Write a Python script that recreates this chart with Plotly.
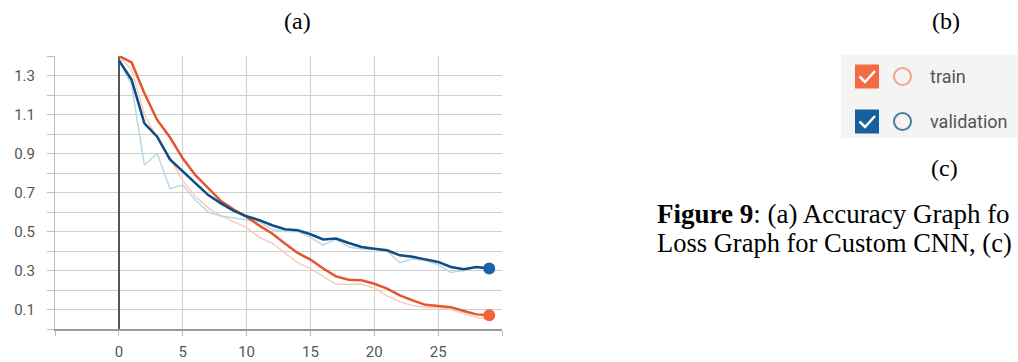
import plotly.graph_objects as go

# ---- data ----
steps = list(range(30))
train_smoothed = [1.40, 1.367, 1.209, 1.072, 0.983, 0.875, 0.789, 0.72, 0.656, 0.613,
                  0.575, 0.53, 0.49, 0.438, 0.39, 0.356, 0.31, 0.27, 0.253, 0.25,
                  0.232, 0.207, 0.172, 0.147, 0.124, 0.118, 0.112, 0.092, 0.075, 0.07]
val_smoothed = [1.378, 1.278, 1.055, 0.986, 0.87, 0.81, 0.75, 0.687, 0.644, 0.606,
                0.578, 0.558, 0.532, 0.512, 0.507, 0.486, 0.459, 0.464, 0.441, 0.421,
                0.412, 0.404, 0.378, 0.37, 0.357, 0.344, 0.318, 0.306, 0.318, 0.31]
train_raw = [1.40, 1.33, 1.10, 0.98, 0.88, 0.76, 0.68, 0.62, 0.58, 0.55,
             0.52, 0.47, 0.44, 0.39, 0.34, 0.31, 0.27, 0.23, 0.23, 0.23,
             0.21, 0.17, 0.14, 0.12, 0.11, 0.11, 0.10, 0.08, 0.06, 0.05]
val_raw = [1.38, 1.25, 0.84, 0.90, 0.72, 0.738, 0.66, 0.60, 0.58, 0.57,
           0.56, 0.55, 0.51, 0.50, 0.50, 0.47, 0.43, 0.46, 0.42, 0.41,
           0.41, 0.40, 0.34, 0.36, 0.35, 0.33, 0.29, 0.30, 0.32, 0.31]
x_tickvals = [-5, 0, 5, 10, 15, 20, 25, 30]
x_ticktext = ["", "0", "5", "10", "15", "20", "25", ""]
y_tickvals = [round(i * 0.1, 1) for i in range(15)]
y_ticktext = [("%.1f" % v) if (round(v * 10) % 2 == 1) else "" for v in y_tickvals]
legend_names = ["train", "validation"]

# ---- layout geometry ----
W, H = 1018, 362
L, R, T, B = 55, 516, 56, 33
PW, PH = W - L - R, H - T - B


def px(x):
    return (x - L) / PW


def py(y):
    return (H - B - y) / PH


ORANGE = "#e4572e"
BLUE = "#0f4c81"
ORANGE_RAW = "#f9cdb9"
BLUE_RAW = "#bcd6e8"

fig = go.Figure()
fig.add_trace(go.Scatter(x=steps, y=train_raw, mode="lines",
                         line=dict(color=ORANGE_RAW, width=1.5), hoverinfo="skip"))
fig.add_trace(go.Scatter(x=steps, y=val_raw, mode="lines",
                         line=dict(color=BLUE_RAW, width=1.5), hoverinfo="skip"))
fig.add_trace(go.Scatter(x=steps, y=train_smoothed, mode="lines", name=legend_names[0],
                         line=dict(color=ORANGE, width=2.5)))
fig.add_trace(go.Scatter(x=steps, y=val_smoothed, mode="lines", name=legend_names[1],
                         line=dict(color=BLUE, width=2.5)))
fig.add_trace(go.Scatter(x=[steps[-1]], y=[train_smoothed[-1]], mode="markers",
                         marker=dict(color="#f0643a", size=12), hoverinfo="skip"))
fig.add_trace(go.Scatter(x=[steps[-1]], y=[val_smoothed[-1]], mode="markers",
                         marker=dict(color="#1c62ad", size=12), hoverinfo="skip"))

fig.update_xaxes(range=[-5, 30], tickvals=x_tickvals, ticktext=x_ticktext,
                 automargin=False,
                 showgrid=True, gridcolor="#cfcfcf", gridwidth=1,
                 showline=True, linecolor="#9a9a9a", linewidth=1.5,
                 ticks="outside", ticklen=5, tickcolor="#bdbdbd",
                 zeroline=True, zerolinecolor="#555555", zerolinewidth=1.8,
                 tickfont=dict(family="Roboto", size=15, color="#555555"),
                 ticklabelstandoff=3)
fig.update_yaxes(range=[0, 1.4], tickvals=y_tickvals, ticktext=y_ticktext,
                 automargin=False,
                 showgrid=True, gridcolor="#cfcfcf", gridwidth=1,
                 showline=True, linecolor="#bdbdbd", linewidth=1,
                 ticks="outside", ticklen=7, tickcolor="#bdbdbd",
                 zeroline=False,
                 tickfont=dict(family="Roboto", size=15, color="#555555"),
                 ticklabelstandoff=9)

shapes = []
# legend background
shapes.append(dict(type="rect", xref="paper", yref="paper",
                   x0=px(841), x1=px(1018), y0=py(138), y1=py(55),
                   fillcolor="#f4f4f4", line=dict(width=0), layer="below"))
rows = [(76.5, "#f26b43", "#f2a48c"), (121.5, "#17609f", "#4f7d99")]
for cy, boxc, circc in rows:
    shapes.append(dict(type="rect", xref="paper", yref="paper",
                       x0=px(855), x1=px(879), y0=py(cy + 12), y1=py(cy - 12),
                       fillcolor=boxc, line=dict(width=0)))
    path = "M %f,%f L %f,%f L %f,%f" % (px(859.5), py(cy), px(865), py(cy + 5.5),
                                         px(875), py(cy - 5.5))
    shapes.append(dict(type="path", xref="paper", yref="paper", path=path,
                       line=dict(color="white", width=2.5)))
    shapes.append(dict(type="circle", xref="paper", yref="paper",
                       x0=px(894), x1=px(911), y0=py(cy + 8.5), y1=py(cy - 8.5),
                       line=dict(color=circc, width=2), fillcolor="rgba(0,0,0,0)"))

annotations = []
for (cy, _, _), name in zip(rows, legend_names):
    annotations.append(dict(xref="paper", yref="paper", x=px(928), y=py(cy),
                            text=name, showarrow=False, xanchor="left", yanchor="middle",
                            font=dict(family="Roboto", size=18, color="#555555")))
serif = "Liberation Serif"
for txt, x, y in [("(a)", 297, 21), ("(b)", 946, 21), ("(c)", 944, 168)]:
    annotations.append(dict(xref="paper", yref="paper", x=px(x), y=py(y), text=txt,
                            showarrow=False, xanchor="center", yanchor="middle",
                            font=dict(family=serif, size=24, color="black")))
annotations.append(dict(xref="paper", yref="paper", x=px(655), y=py(214),
                        text="<b>Figure 9</b>: (a) Accuracy Graph fo",
                        showarrow=False, xanchor="left", yanchor="middle",
                        font=dict(family=serif, size=27, color="black")))
annotations.append(dict(xref="paper", yref="paper", x=px(655), y=py(243),
                        text="Loss Graph for Custom CNN, (c)",
                        showarrow=False, xanchor="left", yanchor="middle",
                        font=dict(family=serif, size=26.5, color="black")))

fig.update_layout(width=W, height=H, margin=dict(l=L, r=R, t=T, b=B),
                  paper_bgcolor="white", plot_bgcolor="white", showlegend=False,
                  shapes=shapes, annotations=annotations)

fig.write_html("out.html", config={"displayModeBar": False},
               post_script="document.body.style.margin='0';"
                           "document.body.style.overflow='hidden';")
